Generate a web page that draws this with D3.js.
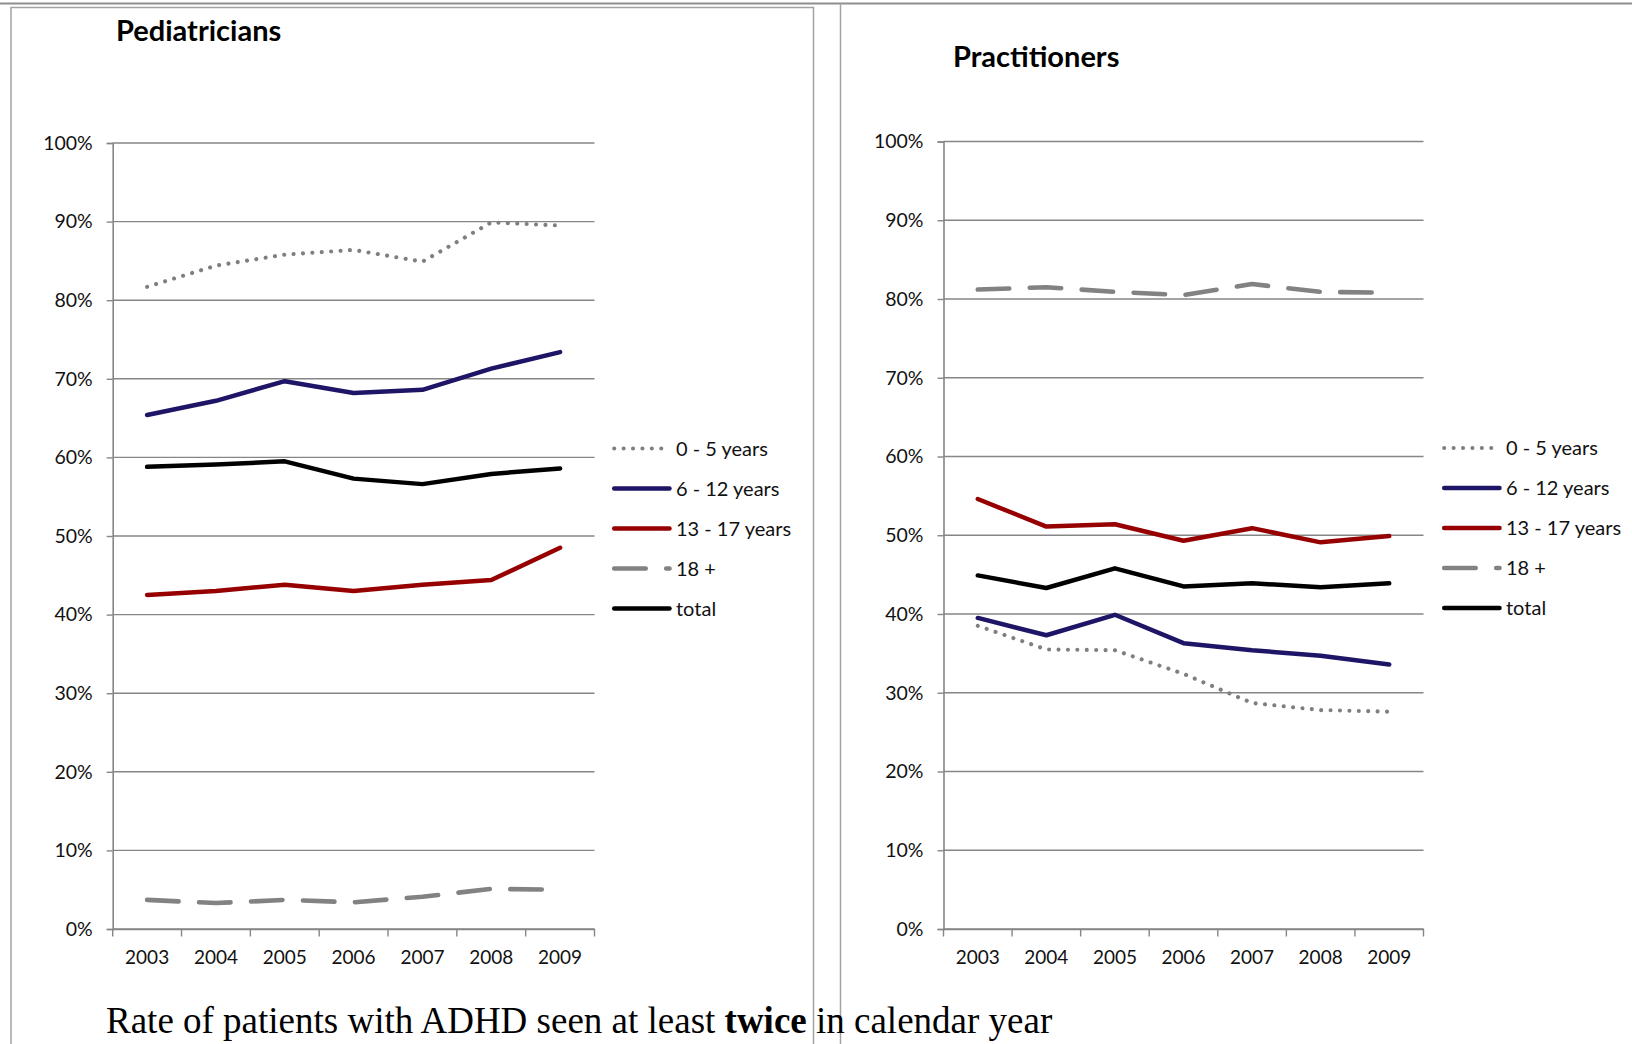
<!DOCTYPE html>
<html>
<head>
<meta charset="utf-8">
<script src="https://cdn.jsdelivr.net/npm/d3@7"></script>
<style>
  html, body { margin: 0; padding: 0; background: #fff; }
  svg { display: block; }
</style>
</head>
<body>
<svg id="chart" width="1632" height="1044"></svg>
<script>
// Years on the x axis and percent ticks on the y axis
const years = ["2003", "2004", "2005", "2006", "2007", "2008", "2009"];
const yTicks = [0, 10, 20, 30, 40, 50, 60, 70, 80, 90, 100];

// Age groups shown in both panels
const seriesNames = ["0 - 5 years", "6 - 12 years", "13 - 17 years", "18 +", "total"];

// Pediatricians: share of ADHD patients seen at least twice (%)
const pedAge0to5   = [81.7, 84.4, 85.8, 86.4, 84.9, 89.9, 89.5];
const pedAge6to12  = [65.4, 67.2, 69.7, 68.2, 68.6, 71.3, 73.4];
const pedAge13to17 = [42.5, 43.0, 43.8, 43.0, 43.8, 44.4, 48.5];
const pedAge18plus = [3.7, 3.3, 3.7, 3.4, 4.1, 5.1, 5.0];
const pedTotal     = [58.8, 59.1, 59.5, 57.3, 56.6, 57.9, 58.6];

// General practitioners
const gpAge0to5   = [38.5, 35.5, 35.4, 32.4, 28.7, 27.8, 27.6];
const gpAge6to12  = [39.5, 37.3, 39.9, 36.3, 35.4, 34.7, 33.6];
const gpAge13to17 = [54.6, 51.1, 51.4, 49.3, 50.9, 49.1, 49.9];
const gpAge18plus = [81.2, 81.5, 80.9, 80.5, 81.9, 80.9, 80.8];
const gpTotal     = [44.9, 43.3, 45.8, 43.5, 43.9, 43.4, 43.9];

// Line styles per age group
const styles = {
  "0 - 5 years":   { color: "#7f7f7f", width: 4.1, dash: "0.01 9.4", cap: "round" },
  "6 - 12 years":  { color: "#1e1566", width: 4.5, dash: null, cap: "round" },
  "13 - 17 years": { color: "#960000", width: 4.5, dash: null, cap: "round" },
  "18 +":          { color: "#828282", width: 4.6, dash: "31.5 20.5", cap: "round" },
  "total":         { color: "#000000", width: 4.5, dash: null, cap: "round" }
};

const svg = d3.select("#chart");
const axisColor = "#868686";
const labelFont = "Lato, 'Open Sans', sans-serif";

// Frames around the two panels
const frames = svg.append("g").attr("fill", "none");
frames.append("line").attr("x1", 0).attr("x2", 1632).attr("y1", 3.5).attr("y2", 3.5)
  .attr("stroke", "#8e8e8e").attr("stroke-width", 2);
frames.append("path").attr("d", "M11,1044V7.5H813.5V1044")
  .attr("stroke", "#a3a3a3").attr("stroke-width", 1.5);
frames.append("line").attr("x1", 840.5).attr("x2", 840.5).attr("y1", 3.5).attr("y2", 1044)
  .attr("stroke", "#a3a3a3").attr("stroke-width", 1.5);

function panel(cfg) {
  const g = svg.append("g");
  const x = d3.scaleBand().domain(years).range([cfg.x0, cfg.x1]).padding(0);
  const y = d3.scaleLinear().domain([0, 100]).range([cfg.yBottom, cfg.yTop]);

  // Title
  g.append("text")
    .attr("x", cfg.titleX).attr("y", cfg.titleY)
    .attr("font-family", labelFont).attr("font-weight", 700)
    .attr("font-size", 29).attr("fill", "#000")
    .text(cfg.title);

  // Horizontal gridlines
  g.append("g").selectAll("line").data(yTicks).join("line")
    .attr("x1", cfg.x0).attr("x2", cfg.x1)
    .attr("y1", d => y(d)).attr("y2", d => y(d))
    .attr("stroke", axisColor).attr("stroke-width", 1.4);

  // Y axis with percent labels
  const yAxis = g.append("g").attr("transform", `translate(${cfg.x0},0)`)
    .call(d3.axisLeft(y).tickValues(yTicks).tickFormat(d => d + "%").tickSize(6).tickPadding(14));
  yAxis.select(".domain").attr("stroke", axisColor).attr("stroke-width", 1.6);
  yAxis.selectAll(".tick line").attr("stroke", axisColor).attr("stroke-width", 1.4);
  yAxis.selectAll("text").attr("font-family", labelFont).attr("font-size", 19.5).attr("fill", "#111");

  // X axis: labels at band centres, tick marks at band edges
  const xAxis = g.append("g").attr("transform", `translate(0,${cfg.yBottom})`)
    .call(d3.axisBottom(x).tickSize(0).tickPadding(22));
  xAxis.select(".domain").attr("stroke", axisColor).attr("stroke-width", 1.6);
  xAxis.selectAll("text").attr("font-family", labelFont).attr("font-size", 19).attr("fill", "#111");
  const edges = years.map(d => x(d)).concat([x(years[years.length - 1]) + x.bandwidth()]);
  g.append("g").selectAll("line").data(edges).join("line")
    .attr("x1", d => d).attr("x2", d => d)
    .attr("y1", cfg.yBottom).attr("y2", cfg.yBottom + 7.5)
    .attr("stroke", axisColor).attr("stroke-width", 1.4);

  // Series lines
  const line = d3.line()
    .x((d, i) => x(years[i]) + x.bandwidth() / 2)
    .y(d => y(d));
  cfg.series.forEach((vals, k) => {
    const st = styles[seriesNames[k]];
    g.append("path").datum(vals)
      .attr("d", line)
      .attr("fill", "none")
      .attr("stroke", st.color)
      .attr("stroke-width", st.width)
      .attr("stroke-linecap", st.cap)
      .attr("stroke-linejoin", "round")
      .attr("stroke-dasharray", st.dash);
  });

  // Legend
  const leg = g.append("g");
  seriesNames.forEach((name, k) => {
    const st = styles[name];
    const cy = cfg.legendY + k * 40;
    leg.append("line")
      .attr("x1", cfg.legendX + 2.2).attr("x2", cfg.legendX + 57.5)
      .attr("y1", cy).attr("y2", cy)
      .attr("stroke", st.color).attr("stroke-width", st.width)
      .attr("stroke-linecap", st.cap)
      .attr("stroke-dasharray", st.dash);
    leg.append("text")
      .attr("x", cfg.legendX + 64).attr("y", cy).attr("dy", "0.35em")
      .attr("font-family", labelFont).attr("font-size", 20).attr("fill", "#111")
      .text(name);
  });
}

panel({
  title: "Pediatricians", titleX: 116, titleY: 41,
  x0: 112.7, x1: 594.5, yTop: 143, yBottom: 929,
  legendX: 612, legendY: 448.5,
  series: [pedAge0to5, pedAge6to12, pedAge13to17, pedAge18plus, pedTotal]
});

panel({
  title: "Practitioners", titleX: 953, titleY: 67,
  x0: 943.5, x1: 1423.5, yTop: 141.5, yBottom: 929,
  legendX: 1442, legendY: 448,
  series: [gpAge0to5, gpAge6to12, gpAge13to17, gpAge18plus, gpTotal]
});

// Caption beneath both panels
const caption = svg.append("text")
  .attr("x", 106).attr("y", 1033)
  .attr("font-family", "'Liberation Serif', 'Times New Roman', serif")
  .attr("font-size", 37).attr("fill", "#000");
caption.append("tspan").text("Rate of patients with ADHD seen at least ");
caption.append("tspan").attr("font-weight", 700).text("twice");
caption.append("tspan").text(" in calendar year");
</script>
</body>
</html>
